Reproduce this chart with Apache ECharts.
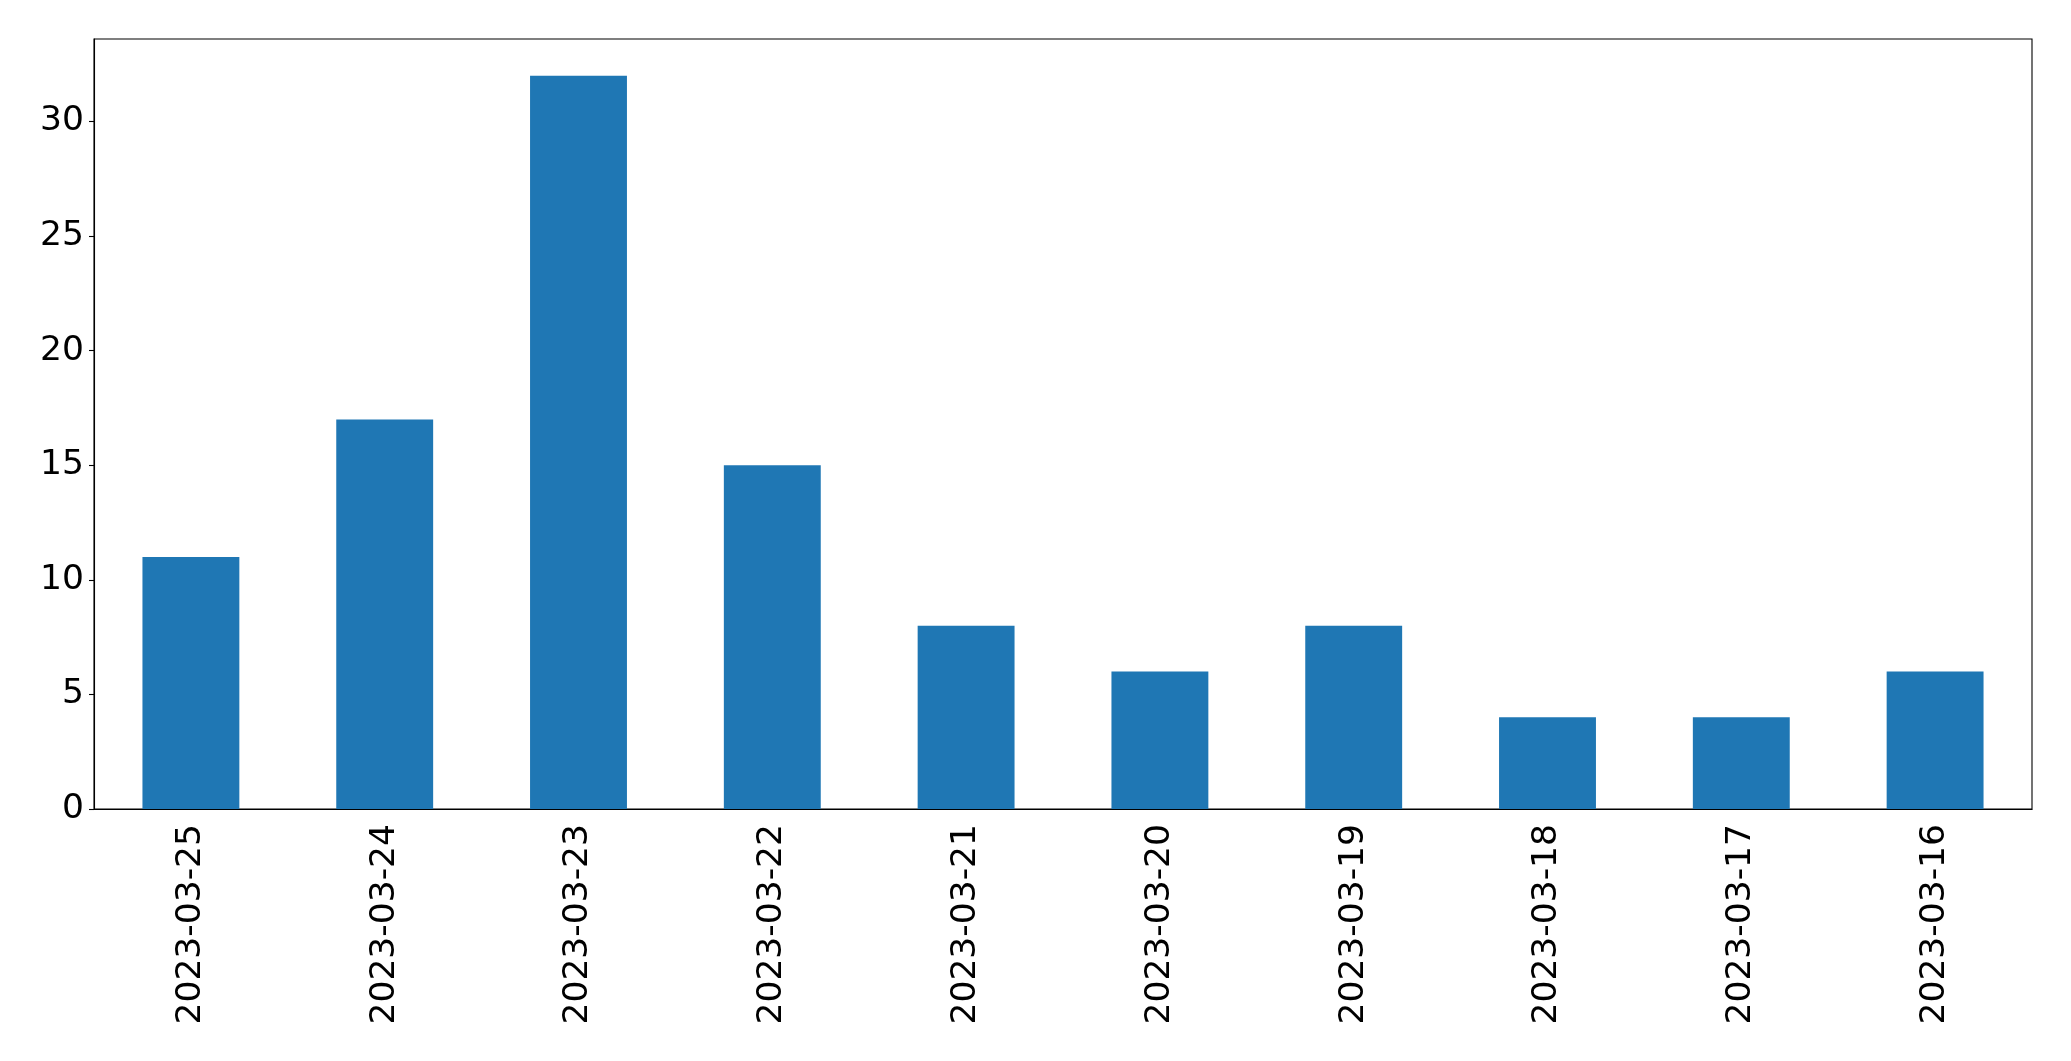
<!DOCTYPE html>
<html><head><meta charset="utf-8">
<script src="https://cdn.jsdelivr.net/npm/echarts@6/dist/echarts.min.js"></script>
<style>html,body{margin:0;padding:0;background:#fff}#c{width:2071px;height:1061px}</style>
</head><body><div id="c"></div>
<script>
const categories = ["2023-03-25","2023-03-24","2023-03-23","2023-03-22","2023-03-21","2023-03-20","2023-03-19","2023-03-18","2023-03-17","2023-03-16"];
const values = [11, 17, 32, 15, 8, 6, 8, 4, 4, 6];
const yTicks = [0, 5, 10, 15, 20, 25, 30];
const yMax = 33.6;

const chart = echarts.init(document.getElementById('c'), null, {renderer: 'canvas'});
const font = 'DejaVu Sans';
chart.setOption({
  animation: false,
  grid: {left: 94, top: 39, right: 39, bottom: 252, show: true, borderColor: '#000', borderWidth: 1.1, backgroundColor: 'transparent'},
  xAxis: {
    type: 'category', data: categories,
    axisLine: {lineStyle: {color: '#000', width: 1.1}},
    axisTick: {alignWithLabel: true, length: 5, lineStyle: {color: '#000', width: 1.1}},
    axisLabel: {rotate: 90, color: '#000', fontFamily: font, fontSize: 34.5, margin: 15, interval: 0}
  },
  yAxis: {
    type: 'value', min: 0, max: yMax, interval: 5,
    splitLine: {show: false},
    axisLine: {show: true, lineStyle: {color: '#000', width: 1.1}},
    axisTick: {show: true, length: 5, lineStyle: {color: '#000', width: 1.1}, customValues: yTicks},
    axisLabel: {color: '#000', fontFamily: font, fontSize: 34.5, margin: 10, customValues: yTicks}
  },
  series: [{
    type: 'bar', data: values, barWidth: '50%',
    itemStyle: {color: '#1f77b4'}
  }]
});
</script></body></html>
